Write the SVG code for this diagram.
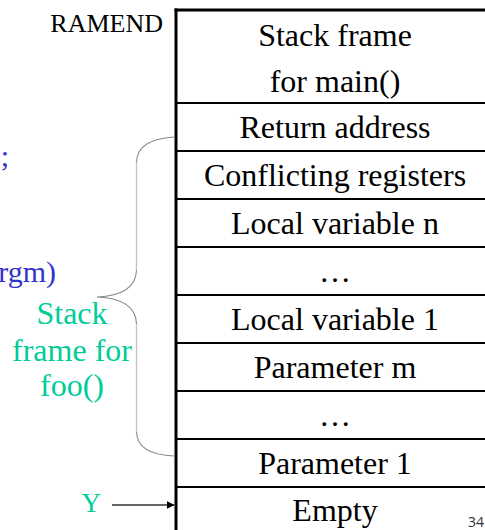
<svg xmlns="http://www.w3.org/2000/svg" width="485" height="530" viewBox="0 0 485 530">
  <style>
    .cell { font-family: "Liberation Serif", "Times New Roman", serif; font-size: 32px; fill: #000; text-anchor: middle; }
    .rowline { stroke: #000; stroke-width: 2; fill: none; }
    .label { font-family: "Liberation Serif", "Times New Roman", serif; }
    .green { fill: #00cc99; }
    .blue { fill: #3333cc; }
    .brace-curve { fill: none; stroke: #8a8a8a; stroke-width: 1.1; }
    .brace-stem { fill: none; stroke: #c4c4c4; stroke-width: 1.4; }
  </style>
  <defs>
    <marker id="arrowhead" viewBox="0 0 10 10" refX="10" refY="5" markerWidth="8" markerHeight="8" markerUnits="userSpaceOnUse" orient="auto">
      <path d="M0,0 L10,5 L0,10 Z" fill="#000"/>
    </marker>
  </defs>
  <rect width="485" height="530" fill="#fff"/>

  <!-- code fragments at the left edge -->
  <text class="label blue" x="9" y="166" font-size="30" text-anchor="end">);</text>
  <text class="label blue" x="56" y="282" font-size="30" text-anchor="end">argm)</text>

  <!-- stack table frame -->
  <g id="stack-frame-outline">
    <line x1="176" y1="8.5" x2="176" y2="530" stroke="#000" stroke-width="3"/>
    <line x1="174.5" y1="10" x2="485" y2="10" stroke="#000" stroke-width="3"/>
  </g>

  <g id="ramend">
    <text class="label" x="163" y="32" font-size="26" text-anchor="end">RAMEND</text>
  </g>

  <g id="row-main">
    <text class="cell" x="335" y="46">Stack frame</text>
    <text class="cell" x="335" y="92">for main()</text>
    <line class="rowline" x1="177" y1="103" x2="485" y2="103"/>
  </g>
  <g id="row-return">
    <text class="cell" x="335" y="138">Return address</text>
    <line class="rowline" x1="177" y1="151" x2="485" y2="151"/>
  </g>
  <g id="row-registers">
    <text class="cell" x="335" y="186">Conflicting registers</text>
    <line class="rowline" x1="177" y1="199" x2="485" y2="199"/>
  </g>
  <g id="row-local-n">
    <text class="cell" x="335" y="234">Local variable n</text>
    <line class="rowline" x1="177" y1="247" x2="485" y2="247"/>
  </g>
  <g id="row-local-dots">
    <text class="cell" x="335" y="282">…</text>
    <line class="rowline" x1="177" y1="295" x2="485" y2="295"/>
  </g>
  <g id="row-local-1">
    <text class="cell" x="335" y="330">Local variable 1</text>
    <line class="rowline" x1="177" y1="343" x2="485" y2="343"/>
  </g>
  <g id="row-param-m">
    <text class="cell" x="335" y="378">Parameter m</text>
    <line class="rowline" x1="177" y1="391" x2="485" y2="391"/>
  </g>
  <g id="row-param-dots">
    <text class="cell" x="335" y="426">…</text>
    <line class="rowline" x1="177" y1="439" x2="485" y2="439"/>
  </g>
  <g id="row-param-1">
    <text class="cell" x="335" y="474">Parameter 1</text>
    <line class="rowline" x1="177" y1="487" x2="485" y2="487"/>
  </g>
  <g id="row-empty">
    <text class="cell" x="335" y="521">Empty</text>
  </g>

  <g id="foo-label">
    <text class="label green" x="72" y="324" font-size="32" text-anchor="middle">Stack</text>
    <text class="label green" x="72" y="361" font-size="32" text-anchor="middle">frame for</text>
    <text class="label green" x="72" y="396" font-size="32" text-anchor="middle">foo()</text>
  </g>

  <g id="y-pointer">
    <text class="label green" x="101" y="512" font-size="27" text-anchor="end">Y</text>
  </g>

  <g id="page-number">
    <text x="484" y="527" font-family="'Open Sans', 'Liberation Sans', sans-serif" font-size="14" fill="#333" text-anchor="end">34</text>
  </g>

  <g id="connectors">
    <!-- curly brace spanning the foo() frame: curved ends and tip darker, straight stems lighter -->
    <path class="brace-curve" d="M174,137 C150,139 137,146 136.5,162"/>
    <path class="brace-stem" d="M136.5,162 L136.5,270"/>
    <path class="brace-curve" d="M136.5,270 C136,288 120,296 97,297 C120,298 136,306 136.5,324"/>
    <path class="brace-stem" d="M136.5,324 L136.5,432"/>
    <path class="brace-curve" d="M136.5,432 C137,448 150,455 174,456"/>
    <!-- Y points at the first empty slot -->
    <line x1="112" y1="505" x2="174.5" y2="505" stroke="#333" stroke-width="1.3" marker-end="url(#arrowhead)"/>
  </g>
</svg>
